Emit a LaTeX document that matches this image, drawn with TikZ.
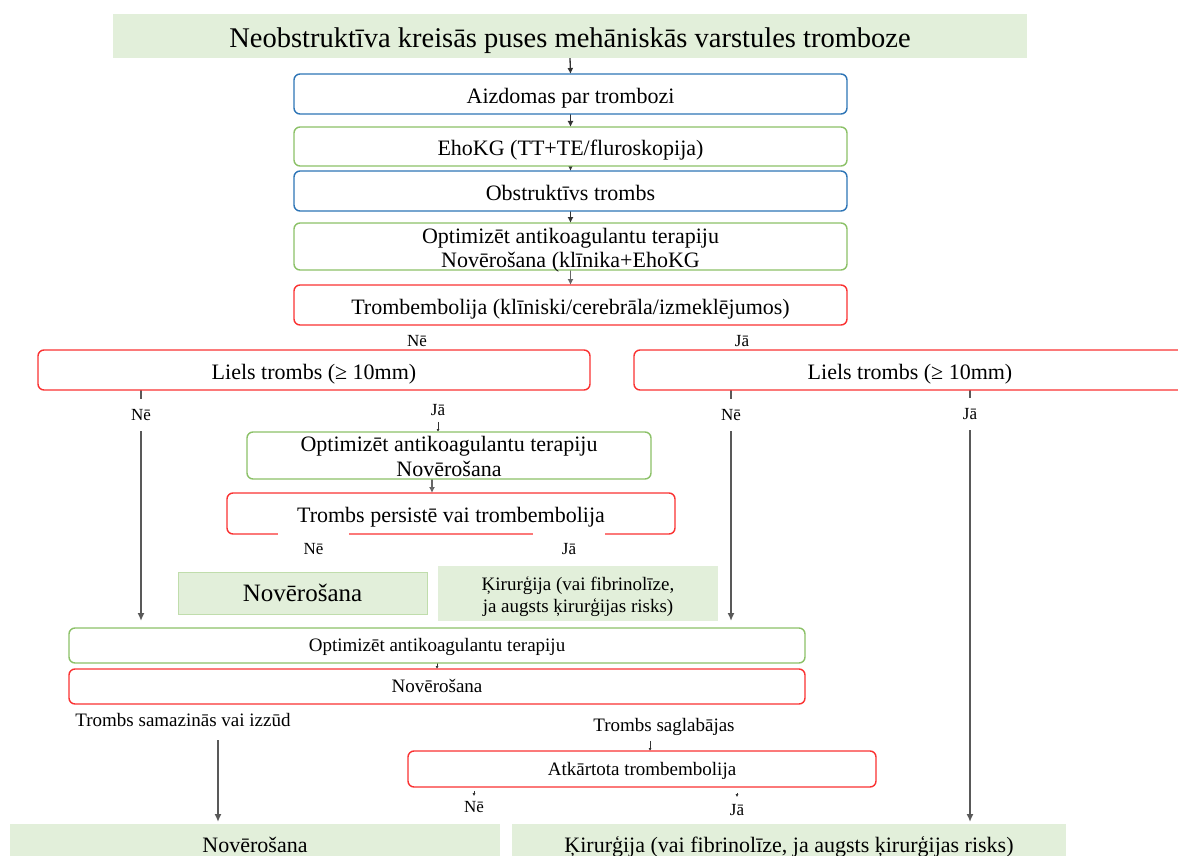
\documentclass[tikz,border=0pt]{standalone}
\usepackage{fontspec}
\setmainfont{Liberation Serif}
\usetikzlibrary{arrows.meta,backgrounds}
\definecolor{cblue}{RGB}{46,117,182}
\definecolor{cgreen}{RGB}{140,193,104}
\definecolor{cred}{RGB}{250,50,50}
\definecolor{cfill}{RGB}{226,239,218}
\definecolor{carrow}{RGB}{50,50,50}
\begin{document}
\begin{tikzpicture}[x=1pt,y=-1pt,
  box/.style={rounded corners=6pt, line width=1.4pt, fill=white, inner sep=0pt, outer sep=0pt, align=center, font=\fontsize{22}{24}\selectfont},
  one/.style={text height=18.5pt, text depth=0pt},
  onesmall/.style={text height=12pt, text depth=0pt},
  bluebox/.style={box, draw=cblue},
  greenbox/.style={box, draw=cgreen},
  redbox/.style={box, draw=cred},
  fillbox/.style={fill=cfill, inner sep=0pt, outer sep=0pt, align=center, font=\fontsize{22}{24}\selectfont},
  multi/.style={inner sep=0pt, align=center},
  lbl/.style={font=\fontsize{17}{20}\selectfont, inner sep=0pt},
  wlbl/.style={lbl, fill=white},
  txt/.style={font=\fontsize{19}{22}\selectfont, inner sep=0pt},
  arr/.style={draw=carrow, line width=1.3pt, -{Latex[length=6pt,width=6pt]}},
  tinyarr/.style={draw=carrow, line width=0.8pt, -{Latex[length=3pt,width=3pt]}},
  longarr/.style={draw=black!65, line width=1.8pt, -{Latex[length=8pt,width=7pt]}},
]
\useasboundingbox (0,0) rectangle (1178,856);

% title
\node[fillbox, minimum width=914, minimum height=44, font=\fontsize{28.5}{30}\selectfont, text height=23pt, text depth=0pt] (title) at (570,36) {Neobstruktīva kreisās puses mehāniskās varstules tromboze};

% upper column
\node[bluebox, one, minimum width=553, minimum height=40] (aiz) at (570.5,94) {Aizdomas par trombozi};
\node[greenbox, one, minimum width=553, minimum height=39] (eho) at (570.5,146.5) {EhoKG (TT+TE/fluroskopija)};
\node[bluebox, one, minimum width=553, minimum height=40] (obs) at (570.5,191) {Obstruktīvs trombs};
\node[greenbox, minimum width=553, minimum height=47] (opt1) at (570.5,246.5) {};
\node[multi, font=\fontsize{22}{24}\selectfont] (opt1t) at (570.5,250.5) {Optimizēt antikoagulantu terapiju\\Novērošana (klīnika+EhoKG};
\node[redbox, one, minimum width=553, minimum height=40] (temb) at (570.5,305) {Trombembolija (klīniski/cerebrāla/izmeklējumos)};

% Liels trombs
\node[redbox, one, minimum width=552, minimum height=40] (lielL) at (314,370) {Liels trombs (≥ 10mm)};
\node[redbox, one, minimum width=552, minimum height=40] (lielR) at (910,370) {Liels trombs (≥ 10mm)};

% middle
\node[greenbox, minimum width=404, minimum height=47] (opt2) at (449,455.5) {};
\node[multi, font=\fontsize{22}{25}\selectfont] (opt2t) at (449,456.5) {Optimizēt antikoagulantu terapiju\\Novērošana};
\node[redbox, one, minimum width=448, minimum height=41] (pers) at (451,513.5) {Trombs persistē vai trombembolija};
\node[fillbox, draw=cgreen!55, line width=0.8pt, minimum width=249, minimum height=42, font=\fontsize{25}{27}\selectfont] (novM) at (302.5,593) {Novērošana};
\node[fillbox, minimum width=280, minimum height=55] (kirM) at (578,593.5) {};
\node[multi, font=\fontsize{19}{22}\selectfont] (kirMt) at (578,596.5) {Ķirurģija (vai fibrinolīze,\\ja augsts ķirurģijas risks)};

% lower boxes
\node[greenbox, onesmall, minimum width=736, minimum height=35, font=\fontsize{19}{22}\selectfont] (opt3) at (437,645.5) {Optimizēt antikoagulantu terapiju};
\node[redbox, onesmall, minimum width=736, minimum height=35, font=\fontsize{19}{22}\selectfont] (nov3) at (437,686.5) {Novērošana};
\node[redbox, onesmall, minimum width=468, minimum height=36, font=\fontsize{19}{22}\selectfont] (atk) at (642,769) {Atkārtota trombembolija};

% bottom boxes
\node[fillbox, text height=12pt, text depth=0pt, minimum width=490, minimum height=44] (novB) at (255,846) {Novērošana};
\node[fillbox, text height=12pt, text depth=0pt, minimum width=554, minimum height=44] (kirB) at (789,846) {Ķirurģija (vai fibrinolīze, ja augsts ķirurģijas risks)};

% labels
\node[lbl] (lNe1) at (417,341) {Nē};
\node[lbl] (lJa1) at (742,341) {Jā};
\node[wlbl, minimum width=60, minimum height=32] (lNe2) at (141,415) {Nē};
\node[lbl] (lJa2) at (438,410) {Jā};
\node[wlbl, minimum width=60, minimum height=32] (lNe3) at (731,415) {Nē};
\node[wlbl, minimum width=60, minimum height=32] (lJa3) at (970,414) {Jā};
\node[wlbl, minimum width=71, minimum height=33] (lNe4) at (313.5,549) {Nē};
\node[wlbl, minimum width=72, minimum height=33] (lJa4) at (569,549) {Jā};
\node[txt] (sam) at (183,720) {Trombs samazinās vai izzūd};
\node[txt] (sag) at (664,727) {Trombs saglabājas};
\node[lbl] (lNeB) at (474,807) {Nē};
\node[lbl] (lJaB) at (737,810) {Jā};

\coordinate (c1) at (218,740);
\coordinate (d1) at (650,741);
\coordinate (x432) at (432,0);

\begin{scope}[on background layer]
\draw[arr] (title.south) -- (aiz.north);
\draw[arr] (aiz.south) -- (eho.north);
\draw[arr] (eho.south) -- (obs.north);
\draw[arr] (obs.south) -- (opt1.north);
\draw[arr, draw=black!60, line width=1.8pt] (opt1.south) -- (temb.north);
\draw[arr, draw=black!60, line width=1.8pt] (opt2.south -| x432) -- (pers.north -| x432);
\draw[tinyarr] (opt3.south) -- (nov3.north);
\draw[tinyarr, shorten <=6pt] (lJa2.south) -- (lJa2.south |- opt2.north);
\draw[tinyarr] (d1) -- (d1 |- atk.north);
\draw[tinyarr, shorten <=4pt, shorten >=5pt] (atk.south -| lNeB) -- (lNeB.north);
\draw[tinyarr, shorten <=6pt, shorten >=7pt] (atk.south -| lJaB) -- (lJaB.north);
\draw[longarr, shorten >=7pt] (lielL.south -| lNe2) -- (opt3.north -| lNe2);
\draw[longarr, shorten >=7pt] (lielR.south -| lNe3) -- (opt3.north -| lNe3);
\draw[longarr, shorten >=2pt] (lielR.south -| lJa3) -- (kirB.north -| lJa3);
\draw[longarr, shorten >=2pt] (c1) -- (c1 |- novB.north);
\end{scope}
\end{tikzpicture}
\end{document}
